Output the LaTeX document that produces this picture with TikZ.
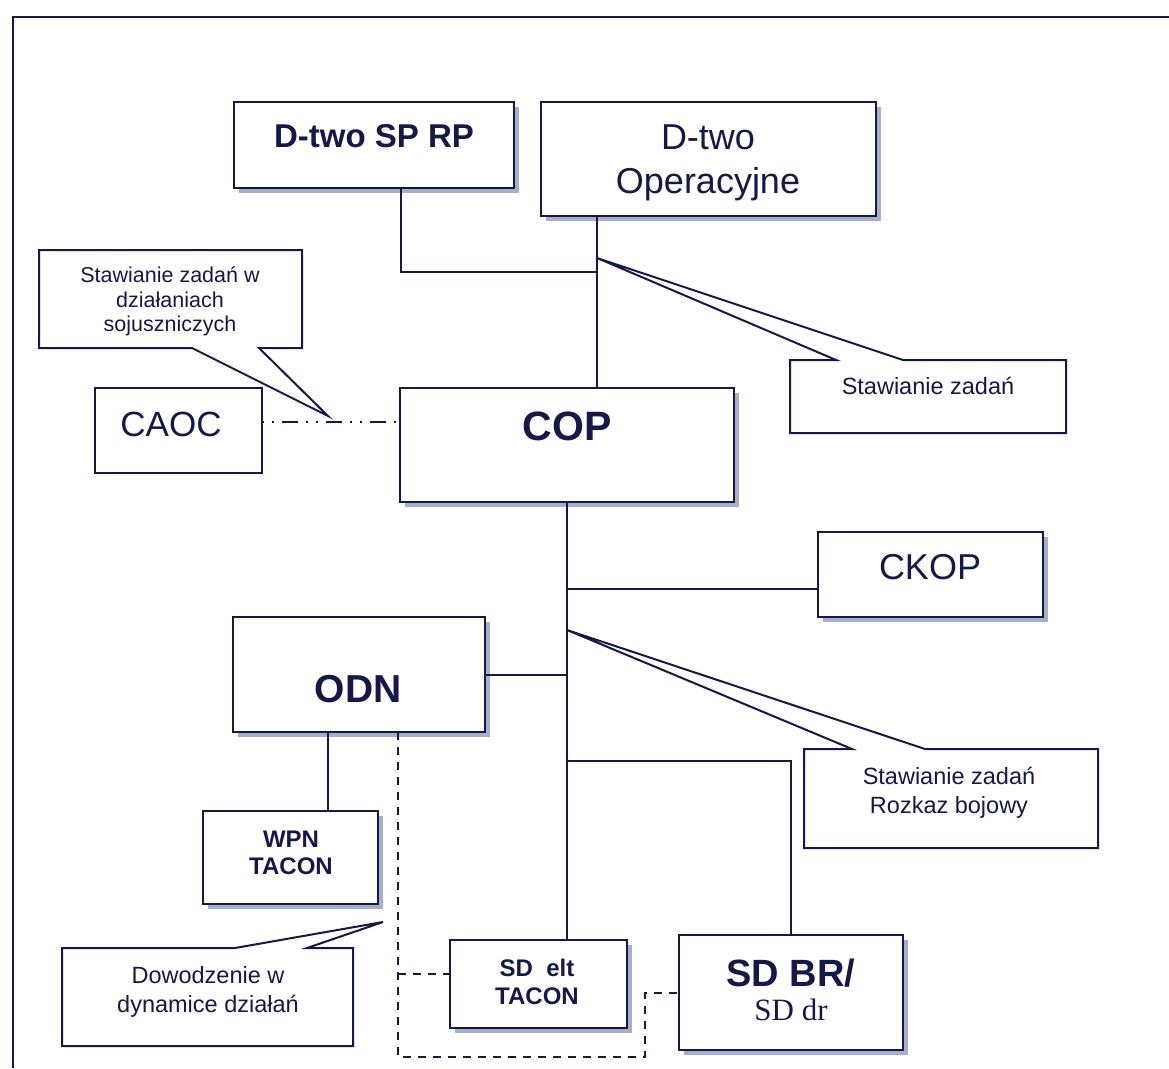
\documentclass[tikz,border=0pt]{standalone}
\usepackage{fontspec}
\setmainfont{Liberation Sans}
\newfontfamily\timesfont{Liberation Serif}
\usetikzlibrary{shadows}
\definecolor{ink}{RGB}{22,24,72}
\definecolor{shadowc}{RGB}{168,174,205}
\newcommand{\fs}[1]{\fontsize{#1}{#1}\selectfont}
\begin{document}
\begin{tikzpicture}[x=1pt,y=-1pt,color=ink,
  box/.style={draw=ink, fill=white, rectangle, inner sep=0pt, outer sep=0pt, line width=2pt,
    general shadow={fill=shadowc, shadow xshift=4.5pt, shadow yshift=-4.5pt}},
  plainbox/.style={draw=ink, fill=white, rectangle, inner sep=0pt, outer sep=0pt, line width=2pt},
  area/.style={rectangle, inner sep=0pt, outer sep=0pt},
  callout/.style={draw=ink, fill=white, line width=2pt, line join=miter},
  lbl/.style={anchor=base, inner sep=0pt, text=ink},
  link/.style={draw=ink, line width=2pt},
  dashlink/.style={draw=ink, line width=1.8pt, dash pattern=on 8pt off 7pt},
  dashdot/.style={draw=ink, line width=1.8pt, dash pattern=on 2pt off 8pt on 2pt off 8pt on 16pt off 8pt},
]
\useasboundingbox (0,0) rectangle (1169,1068);
\fill[white] (0,0) rectangle (1169,1068);

% outer frame (left and top edges)
\draw[link] (13,1068) -- (13,17) -- (1169,17);

% ---- boxes ----
\node[box, minimum width=280pt, minimum height=86pt]  (sprp)  at (374,145)   {};
\node[box, minimum width=335pt, minimum height=114pt] (dop)   at (708.5,159) {};
\node[plainbox, minimum width=167pt, minimum height=85pt] (caoc) at (178.5,430.5) {};
\node[box, minimum width=334pt, minimum height=114pt] (cop)   at (567,445)   {};
\node[box, minimum width=225pt, minimum height=85pt]  (ckop)  at (930.5,574.5) {};
\node[box, minimum width=252pt, minimum height=115pt] (odn)   at (359,674.5) {};
\node[box, minimum width=175pt, minimum height=93pt]  (wpn)   at (290.5,857.5) {};
\node[box, minimum width=177pt, minimum height=88pt]  (sdelt) at (538.5,984)  {};
\node[box, minimum width=224pt, minimum height=115pt] (sdbr)  at (791,992.5)  {};

% ---- callouts ----
\coordinate (tip1) at (328,416);
\coordinate (tip2) at (597,258);
\coordinate (tip3) at (567,630);
\coordinate (tip4) at (383,922);
\node[area, minimum width=263pt, minimum height=98pt] (c1) at (170.5,299) {};
\node[area, minimum width=276pt, minimum height=73pt] (c2) at (928,396.5) {};
\node[area, minimum width=294pt, minimum height=99pt] (c3) at (951,798.5) {};
\node[area, minimum width=291pt, minimum height=98pt] (c4) at (207.5,997) {};

\draw[callout] (c1.north west) -- (c1.north east) -- (c1.south east)
  -- (259,348) -- (tip1) -- (192,348) -- (c1.south west) -- cycle;
\draw[callout] (c2.north west) -- (836,360) -- (tip2) -- (903,360)
  -- (c2.north east) -- (c2.south east) -- (c2.south west) -- cycle;
\draw[callout] (c3.north west) -- (852,749) -- (tip3) -- (925,749)
  -- (c3.north east) -- (c3.south east) -- (c3.south west) -- cycle;
\draw[callout] (c4.north west) -- (235,948) -- (tip4) -- (307,948)
  -- (c4.north east) -- (c4.south east) -- (c4.south west) -- cycle;

% ---- connectors ----
\coordinate (j1) at (597,272);
\draw[link] (sprp.south -| 401,0) |- (j1);
\draw[link] (dop.south -| j1) -- (cop.north -| j1);
\draw[dashdot] (caoc.east |- 0,422) -- (cop.west |- 0,422);
\draw[link] (cop.south) -- (cop.south |- sdelt.north);
\draw[link] (cop.south |- 0,589) -- (ckop.west |- 0,589);
\draw[link] (odn.east) -- (cop.south |- odn.east);
\draw[link] (cop.south |- 0,761) -| (sdbr.north);
\draw[link] (odn.south -| 328,0) -- (wpn.north -| 328,0);
\coordinate (dturn) at (645,993);
\draw[dashlink] (odn.south -| 398,0) -- (398,1057) -| (dturn) -- (sdbr.west |- dturn);
\draw[dashlink] (398,974) -- (sdelt.west |- 0,974);

% ---- texts ----
\node[lbl, font=\bfseries\fs{33}] (tsprp) at (374,147) {D-two SP RP};
\node[lbl, font=\fs{36}] (tdop1) at (708,149) {D-two};
\node[lbl, font=\fs{36}] (tdop2) at (708,193) {Operacyjne};
\node[lbl, font=\fs{21.5}] (tc1a) at (170,282) {Stawianie zadań w};
\node[lbl, font=\fs{21.5}] (tc1b) at (170,307) {działaniach};
\node[lbl, font=\fs{21.5}] (tc1c) at (170,331) {sojuszniczych};
\node[lbl, font=\fs{35}] (tcaoc) at (171,436) {CAOC};
\node[lbl, font=\bfseries\fs{41}] (tcop) at (567,440) {COP};
\node[lbl, font=\fs{23.5}] (tc2) at (928,394) {Stawianie zadań};
\node[lbl, font=\fs{36}] (tckop) at (930,579) {CKOP};
\node[lbl, font=\bfseries\fs{39}] (todn) at (358,702) {ODN};
\node[lbl, font=\fs{23.5}] (tc3a) at (949,784) {Stawianie zadań};
\node[lbl, font=\fs{23.5}] (tc3b) at (949,813) {Rozkaz bojowy};
\node[lbl, font=\bfseries\fs{24}] (twpn1) at (291,847) {WPN};
\node[lbl, font=\bfseries\fs{24}] (twpn2) at (291,874) {TACON};
\node[lbl, font=\fs{23.5}] (tc4a) at (208,983) {Dowodzenie w};
\node[lbl, font=\fs{23.5}] (tc4b) at (208,1012) {dynamice działań};
\node[lbl, font=\bfseries\fs{24}] (tsd1) at (537,976) {SD\ \ elt};
\node[lbl, font=\bfseries\fs{24}] (tsd2) at (537,1004) {TACON};
\node[lbl, font=\bfseries\fs{38}] (tbr1) at (791,986) {SD BR/};
\node[lbl, font=\timesfont\fs{31}] (tbr2) at (791,1020) {SD dr};
\end{tikzpicture}
\end{document}
